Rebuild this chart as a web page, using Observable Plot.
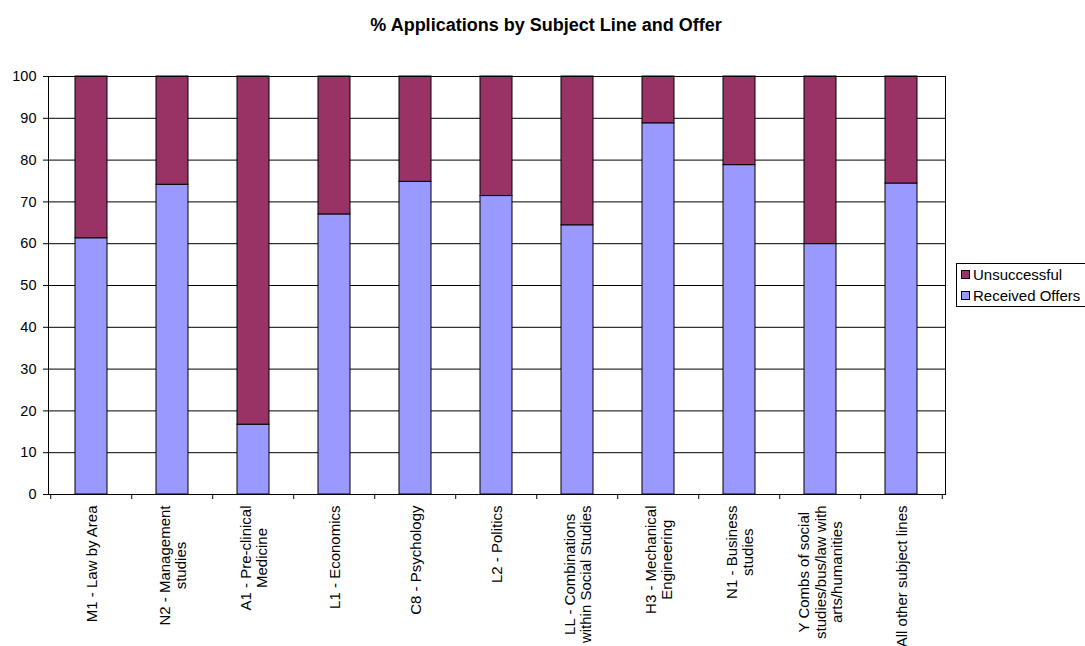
<!DOCTYPE html>
<html>
<head>
<meta charset="utf-8">
<script src="https://cdn.jsdelivr.net/npm/d3@7"></script>
<script src="https://cdn.jsdelivr.net/npm/@observablehq/plot@0.6"></script>
<style>
  body { margin: 0; background: #fff; font-family: "Liberation Sans", Arial, sans-serif; }
  #wrap { position: relative; width: 1085px; height: 646px; overflow: hidden; }
  #title { position: absolute; left: 0; top: 16px; width: 1085px; box-sizing: border-box; padding-left: 7px;
           text-align: center; font-weight: bold; font-size: 18px; line-height: 18px; color: #000; }
  #chart { position: absolute; left: 0; top: 0; }
  #legend { position: absolute; left: 956px; top: 263px; width: 150px; border: 1px solid #000; background: #fff;
            padding: 0 0 0 4px; font-size: 15px; color: #000; }
  .row { display: flex; align-items: center; height: 21px; white-space: nowrap; }
  .sw { display: inline-block; width: 7px; height: 7px; border: 1px solid #000; margin-right: 3px; }
</style>
</head>
<body>
<div id="wrap">
  <div id="chart"></div>
  <div id="title">% Applications by Subject Line and Offer</div>
  <div id="legend"></div>
</div>
<script>
const categories = [
  "M1 - Law by Area", "N2 - Management studies", "A1 - Pre-clinical Medicine", "L1 - Economics",
  "C8 - Psychology", "L2 - Politics", "LL - Combinations within Social Studies",
  "H3 - Mechanical Engineering", "N1 - Business studies",
  "Y Combs of social studies/bus/law with arts/humanities", "All other subject lines"
];
const tickLabels = [
  "M1 - Law by Area", "N2 - Management\nstudies", "A1 - Pre-clinical\nMedicine", "L1 - Economics",
  "C8 - Psychology", "L2 - Politics", "LL - Combinations\nwithin Social Studies",
  "H3 - Mechanical\nEngineering", "N1 - Business\nstudies",
  "Y Combs of social\nstudies/bus/law with\narts/humanities", "All other subject lines"
];
const receivedOffers = [61.3, 74.1, 16.7, 67.0, 74.8, 71.4, 64.4, 88.8, 78.8, 59.9, 74.4];
const unsuccessful   = [38.7, 25.9, 83.3, 33.0, 25.2, 28.6, 35.6, 11.2, 21.2, 40.1, 25.6];
const seriesNames = ["Received Offers", "Unsuccessful"];
const seriesColors = ["#9999FF", "#993366"];
const yTicks = [0, 10, 20, 30, 40, 50, 60, 70, 80, 90, 100];

const rows = [];
categories.forEach((c, i) => rows.push({category: c, series: seriesNames[0], value: receivedOffers[i]}));
categories.forEach((c, i) => rows.push({category: c, series: seriesNames[1], value: unsuccessful[i]}));

const W = 1085, H = 646;
const mL = 48, mR = 140, mT = 76, mB = 152;
const step = (W - mL - mR) / categories.length;

const chart = Plot.plot({
  width: W, height: H,
  marginLeft: mL, marginRight: mR, marginTop: mT, marginBottom: mB,
  style: { fontFamily: "Liberation Sans, Arial, sans-serif", fontSize: "15px", color: "#000", background: "#fff", overflow: "visible" },
  x: { domain: categories, paddingInner: 0.6, paddingOuter: 0.3, align: 0.5, label: null },
  y: { domain: [0, 100], label: null },
  color: { domain: seriesNames, range: seriesColors },
  marks: [
    Plot.gridY(yTicks, { stroke: "#000", strokeOpacity: 1, strokeWidth: 1 }),
    Plot.barY(rows, { x: "category", y: "value", fill: "series", stroke: "#000", strokeWidth: 1 }),
    Plot.frame({ stroke: "#000", strokeWidth: 1 }),
    Plot.axisY(yTicks, { tickSize: 5, tickPadding: 7, fontSize: 14.5, stroke: "#000", fill: "#000", label: null }),
    Plot.axisX({ tickSize: 0, tickRotate: -90, tickPadding: 11, fontSize: 15, lineHeight: 1.11, fill: "#000",
                 tickFormat: d => tickLabels[categories.indexOf(d)], label: null }),
    Plot.ruleX(categories, { x: d => d, y1: 0, y2: 0, insetBottom: -5, dx: -step / 2, stroke: "#000" }),
    Plot.ruleX(categories.slice(-1), { x: d => d, y1: 0, y2: 0, insetBottom: -5, dx: step / 2, stroke: "#000" })
  ]
});
document.getElementById("chart").appendChild(chart);

// centre the lines of multi-line category labels on each other
chart.querySelectorAll('g[aria-label="x-axis tick label"] text').forEach(t => {
  const spans = Array.from(t.querySelectorAll("tspan"));
  if (spans.length < 2) return;
  const widths = spans.map(s => s.getComputedTextLength());
  const maxW = Math.max(...widths);
  spans.forEach((s, i) => s.setAttribute("x", -(maxW - widths[i]) / 2));
});

// legend
const legend = document.getElementById("legend");
[1, 0].forEach(i => {
  const row = document.createElement("div");
  row.className = "row";
  const sw = document.createElement("span");
  sw.className = "sw";
  sw.style.background = seriesColors[i];
  row.appendChild(sw);
  row.appendChild(document.createTextNode(seriesNames[i]));
  legend.appendChild(row);
});
</script>
</body>
</html>
